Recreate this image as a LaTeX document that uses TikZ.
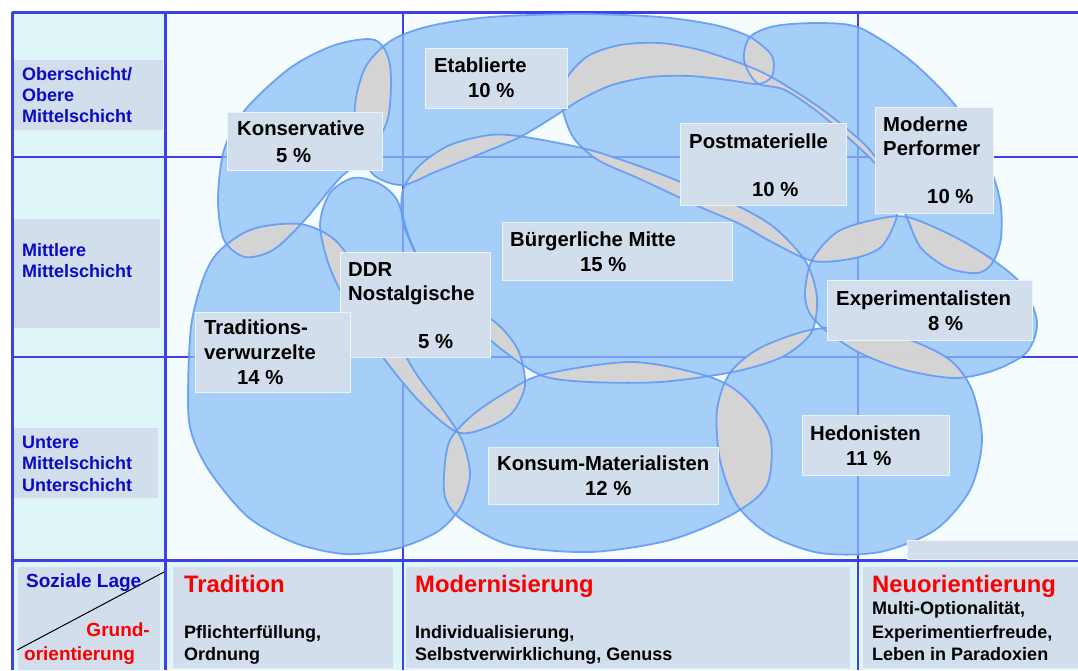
\documentclass[tikz,border=0pt]{standalone}
\usepackage{fontspec}
\setmainfont{Liberation Sans}
\definecolor{gridblue}{RGB}{64,64,232}
\definecolor{leftbg}{RGB}{223,246,248}
\definecolor{chartbg}{RGB}{245,252,254}
\definecolor{boxfill}{RGB}{210,222,236}
\definecolor{boxedge}{RGB}{232,244,252}
\definecolor{blobfill}{RGB}{139,192,248}
\definecolor{blobedge}{RGB}{100,155,245}
\definecolor{ovgrey}{RGB}{224,215,208}
\definecolor{rowblue}{RGB}{10,10,200}
\definecolor{headred}{RGB}{250,0,0}
\newcommand\blobpath[1]{\csname blob#1\endcsname}
\newcommand\defblob[2]{\expandafter\def\csname blob#1\endcsname{#2}}
% 1 Konservative
\defblob{1}{plot[smooth cycle] coordinates{(218,200) (224,150) (245,110) (290,68) (335,45) (375,40) (390,65) (388,118) (368,155) (340,178) (303,222) (273,250) (245,257) (224,240)}}
% 2 Etablierte
\defblob{2}{plot[smooth cycle] coordinates{(355,105) (366,66) (392,40) (430,26) (490,17) (580,14) (660,17) (715,25) (750,37) (772,56) (772,76) (758,84) (728,80) (690,76) (650,77) (612,85) (580,100) (555,116) (520,137) (475,156) (435,172) (403,185) (375,176) (358,148)}}
% 3 Postmaterielle
\defblob{3}{plot[smooth cycle] coordinates{(562,105) (567,78) (588,56) (620,45) (660,43) (700,50) (745,65) (775,79) (823,110) (868,148) (892,185) (897,215) (882,246) (855,258) (813,261) (770,241) (740,224) (700,207) (640,179) (598,160) (573,137)}}
% 4 Moderne Performer
\defblob{4}{plot[smooth cycle] coordinates{(744,60) (750,37) (775,26) (820,23) (860,28) (910,60) (955,105) (985,155) (1000,200) (1001,238) (993,262) (978,273) (948,268) (921,248) (907,218) (892,188) (872,160) (823,116) (785,90) (757,83)}}
% 5 Buergerliche Mitte
\defblob{5}{plot[smooth cycle] coordinates{(403,222) (403,190) (420,165) (450,145) (490,135) (525,137) (590,150) (650,170) (700,190) (740,207) (775,228) (806,262) (817,298) (811,333) (782,357) (733,372) (660,382) (590,382) (543,376) (505,352) (470,322) (440,292) (418,258)}}
% 6 DDR
\defblob{6}{plot[smooth cycle] coordinates{(320,225) (330,193) (353,178) (378,183) (397,200) (410,240) (428,275) (455,300) (495,322) (518,350) (525,385) (512,413) (486,428) (457,432) (420,402) (385,360) (352,312) (330,268)}}
% 7 Traditionsverwurzelte
\defblob{7}{plot[smooth cycle] coordinates{(188,400) (192,320) (212,260) (250,230) (300,224) (335,240) (362,278) (392,330) (415,372) (443,410) (462,440) (470,475) (460,508) (437,532) (395,549) (345,554) (295,543) (248,517) (210,472) (192,435)}}
% 8 Konsum-Materialisten
\defblob{8}{plot[smooth cycle] coordinates{(444,475) (450,440) (475,413) (510,390) (545,374) (633,362) (710,377) (745,398) (770,435) (767,485) (733,514) (670,540) (590,552) (510,545) (462,520) (446,500)}}
% 9 Hedonisten
\defblob{9}{plot[smooth cycle] coordinates{(717,410) (730,373) (760,348) (810,330) (860,328) (910,340) (950,360) (972,390) (982,440) (970,490) (935,530) (880,552) (820,553) (770,535) (737,505) (720,460)}}
% 10 Experimentalisten
\defblob{10}{plot[smooth cycle] coordinates{(805,292) (812,260) (837,232) (873,220) (907,217) (953,236) (993,260) (1022,285) (1037,322) (1027,352) (995,370) (955,378) (905,370) (860,353) (825,330) (809,312)}}
\begin{document}
\begin{tikzpicture}[x=1pt,y=-1pt,
  grid/.style={draw=gridblue, line width=2.2pt},
  lbox/.style={draw=boxedge, fill=boxfill, line width=1pt, anchor=north west, inner sep=0pt},
  lbl/.style={font=\bfseries\fontsize{20.3}{24}\selectfont, anchor=base west, inner sep=0pt, text=black},
  rowlbl/.style={font=\bfseries\fontsize{18}{21}\selectfont, anchor=base west, inner sep=0pt, text=rowblue},
  head/.style={font=\bfseries\fontsize{23.8}{28}\selectfont, anchor=base west, inner sep=0pt, text=headred},
  desc/.style={font=\bfseries\fontsize{18}{21}\selectfont, anchor=base west, inner sep=0pt, text=black}]
\useasboundingbox (0,0) rectangle (1078,670);
\fill[white] (0,0) rectangle (1078,670);
\fill[chartbg] (165,12) rectangle (1078,560);
\fill[leftbg] (12,12) rectangle (165,670);
\fill[leftbg] (165,560) rectangle (1078,670);
% left column label boxes
\node[lbox, minimum width=150pt, minimum height=71pt] (r1) at (13,59) {};
\node[lbox, minimum width=147pt, minimum height=110pt] (r2) at (13,218) {};
\node[lbox, minimum width=145pt, minimum height=71pt] (r3) at (13,427) {};
% bottom boxes
\node[lbox, minimum width=143pt, minimum height=104pt] (b1) at (17,566) {};
\node[lbox, minimum width=221pt, minimum height=102pt] (b2) at (172,566) {};
\node[lbox, minimum width=445pt, minimum height=102pt] (b3) at (405,566) {};
\node[lbox, minimum width=216pt, minimum height=102pt] (b4) at (862,566) {};
% grid
\draw[grid, line width=2pt] (12,157) -- (1078,157);
\draw[grid, line width=2pt] (12,357) -- (1078,357);
\draw[grid, line width=2pt] (403,12) -- (403,670);
\draw[grid, line width=2pt] (858,12) -- (858,670);
\draw[grid, line width=3pt] (12,12) -- (1078,12);
\draw[grid, line width=3pt] (12,12) -- (12,670);
\draw[grid, line width=3pt] (165,12) -- (165,670);
\draw[grid, line width=3pt] (12,560) -- (1078,560);
% blobs
\foreach \i in {1,...,10}{\fill[blobfill, fill opacity=0.75] \blobpath{\i};}
\foreach \i in {1,...,10}{\foreach \j in {1,...,10}{\ifnum\i<\j\relax
  \begin{scope}\clip \blobpath{\i}; \fill[ovgrey, fill opacity=0.85] \blobpath{\j};\end{scope}\fi}}
\foreach \i in {1,...,10}{\draw[blobedge, line width=1.8pt, draw opacity=0.9] \blobpath{\i};}
% label boxes
\node[lbox, minimum width=155pt, minimum height=58pt] (bK) at (227,112) {};
\node[lbox, minimum width=142pt, minimum height=60pt] (bE) at (425,48) {};
\node[lbox, minimum width=166pt, minimum height=82pt] (bP) at (680,123) {};
\node[lbox, minimum width=118pt, minimum height=106pt] (bMP) at (875,107) {};
\node[lbox, minimum width=230pt, minimum height=58pt] (bBM) at (502,222) {};
\node[lbox, minimum width=150pt, minimum height=105pt] (bD) at (340,252) {};
\node[lbox, minimum width=155pt, minimum height=80pt] (bT) at (195,312) {};
\node[lbox, minimum width=205pt, minimum height=60pt] (bX) at (827,280) {};
\node[lbox, minimum width=230pt, minimum height=57pt] (bKM) at (488,447) {};
\node[lbox, minimum width=147pt, minimum height=60pt] (bH) at (802,415) {};
\node[lbox, minimum width=171pt, minimum height=19pt] (bS) at (907,540) {};
% label texts
\node[lbl] (tK1) at (237,135) {Konservative};
\node[lbl] (tK2) at (276,162) {5 \%};
\node[lbl] (tE1) at (434,72) {Etablierte};
\node[lbl] (tE2) at (468,97) {10 \%};
\node[lbl] (tP1) at (689,148) {Postmaterielle};
\node[lbl] (tP2) at (752,196) {10 \%};
\node[lbl] (tM1) at (883,131) {Moderne};
\node[lbl] (tM2) at (883,155) {Performer};
\node[lbl] (tM3) at (927,203) {10 \%};
\node[lbl] (tB1) at (510,246) {Bürgerliche Mitte};
\node[lbl] (tB2) at (580,271) {15 \%};
\node[lbl] (tD1) at (348,276) {DDR};
\node[lbl] (tD2) at (348,300) {Nostalgische};
\node[lbl] (tD3) at (418,348) {5 \%};
\node[lbl] (tT1) at (204,334) {Traditions-};
\node[lbl] (tT2) at (204,359) {verwurzelte};
\node[lbl] (tT3) at (237,384) {14 \%};
\node[lbl] (tX1) at (836,305) {Experimentalisten};
\node[lbl] (tX2) at (928,330) {8 \%};
\node[lbl] (tKM1) at (497,470) {Konsum-Materialisten};
\node[lbl] (tKM2) at (585,495) {12 \%};
\node[lbl] (tH1) at (810,440) {Hedonisten};
\node[lbl] (tH2) at (846,465) {11 \%};
% row labels
\node[rowlbl] (ra1) at (22,80) {Oberschicht/};
\node[rowlbl] (ra2) at (22,101) {Obere};
\node[rowlbl] (ra3) at (22,122) {Mittelschicht};
\node[rowlbl] (rb1) at (22,256) {Mittlere};
\node[rowlbl] (rb2) at (22,277) {Mittelschicht};
\node[rowlbl] (rc1) at (22,448) {Untere};
\node[rowlbl] (rc2) at (22,469) {Mittelschicht};
\node[rowlbl] (rc3) at (22,491) {Unterschicht};
% bottom corner
\coordinate (dA) at (17,650);
\coordinate (dB) at (164,572);
\draw[black, line width=1pt] (dA) -- (dB);
\node[rowlbl, font=\bfseries\fontsize{19}{22}\selectfont] (sl) at (26,587) {Soziale Lage};
\node[rowlbl, text=headred, anchor=base east, font=\bfseries\fontsize{19}{22}\selectfont] (go1) at (150,636) {Grund-};
\node[rowlbl, text=headred, font=\bfseries\fontsize{19}{22}\selectfont] (go2) at (24,660) {orientierung};
% bottom headers
\node[head] (hT) at (184,592) {Tradition};
\node[desc] (dT1) at (184,638) {Pflichterfüllung,};
\node[desc] (dT2) at (184,660) {Ordnung};
\node[head] (hM) at (415,592) {Modernisierung};
\node[desc] (dM1) at (415,638) {Individualisierung,};
\node[desc] (dM2) at (415,660) {Selbstverwirklichung, Genuss};
\node[head] (hN) at (872,592) {Neuorientierung};
\node[desc] (dN1) at (872,614) {Multi-Optionalität,};
\node[desc] (dN2) at (872,638) {Experimentierfreude,};
\node[desc] (dN3) at (872,660) {Leben in Paradoxien};
\end{tikzpicture}
\end{document}
